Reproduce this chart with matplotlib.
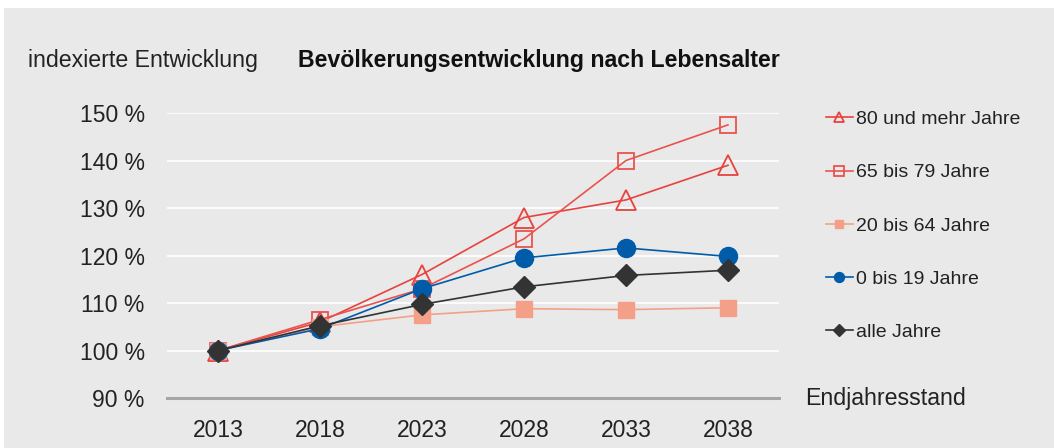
import numpy as np
import matplotlib
matplotlib.use("Agg")
import matplotlib.pyplot as plt
from matplotlib.patches import Rectangle

plt.rcParams['font.family'] = ['Liberation Sans', 'DejaVu Sans']

# data (index, 2013 = 100 %)
years = ["2013", "2018", "2023", "2028", "2033", "2038"]
age_80_plus = [100.0, 106.0, 116.0, 128.0, 131.7, 139.0]
age_65_79 = [100.0, 106.5, 113.0, 123.5, 140.0, 147.5]
age_20_64 = [100.0, 105.0, 107.5, 108.8, 108.6, 109.0]
age_0_19 = [100.0, 104.6, 113.0, 119.5, 121.6, 119.8]
age_all = [100.0, 105.2, 109.7, 113.4, 115.8, 116.9]

y_ticks = [90, 100, 110, 120, 130, 140, 150]
y_tick_labels = [str(t) + " %" for t in y_ticks]

bg = "#e9e9e9"
red = "#e8423d"
red_light = "#e9534e"
salmon = "#f4a088"
blue = "#005ca9"
dark = "#333333"

fig = plt.figure(figsize=(10.54, 4.48), dpi=100, facecolor="white")
fig.patches.append(Rectangle((4 / 1054, 0), 1, 440 / 448, transform=fig.transFigure,
                             facecolor=bg, edgecolor="none", zorder=-10))

ax = fig.add_axes([167 / 1054, 50 / 448, 612 / 1054, 285 / 448])
ax.set_facecolor(bg)

x = np.arange(len(years))

l1, = ax.plot(x, age_80_plus, color=red, lw=1.2, marker="^", ms=14, mfc="none",
              mec=red, mew=1.3, clip_on=False, zorder=3)
l2, = ax.plot(x, age_65_79, color=red_light, lw=1.2, marker="s", ms=12, mfc="none",
              mec=red_light, mew=1.3, clip_on=False, zorder=3)
l3, = ax.plot(x, age_20_64, color=salmon, lw=1.2, marker="s", ms=11, mfc=salmon,
              mec=salmon, clip_on=False, zorder=3)
l4, = ax.plot(x, age_0_19, color=blue, lw=1.2, marker="o", ms=13, mfc=blue,
              mec=blue, clip_on=False, zorder=4)
l5, = ax.plot(x, age_all, color=dark, lw=1.2, marker="D", ms=11, mfc=dark,
              mec=dark, clip_on=False, zorder=5)

ax.set_xlim(-0.5, len(years) - 0.5)
ax.set_ylim(90, 150)
ax.set_yticks(y_ticks)
ax.set_yticklabels(y_tick_labels, fontsize=16.5, color="#222222")
ax.set_xticks(x)
ax.set_xticklabels(years, fontsize=16.5, color="#222222")
ax.tick_params(axis="both", length=0)
ax.tick_params(axis="y", pad=16)
ax.tick_params(axis="x", pad=15)
ax.grid(axis="y", color="white", lw=1.2)
ax.set_axisbelow(True)
for s in ["top", "right", "left"]:
    ax.spines[s].set_visible(False)
ax.spines["bottom"].set_color("#a6a6a6")
ax.spines["bottom"].set_linewidth(2.2)

leg = fig.legend([l1, l2, l3, l4, l5],
                 ["80 und mehr Jahre", "65 bis 79 Jahre", "20 bis 64 Jahre",
                  "0 bis 19 Jahre", "alle Jahre"],
                 loc="upper left", bbox_to_anchor=(808 / 1054, 1 - 93 / 448),
                 frameon=False, fontsize=14, markerscale=0.55,
                 handlelength=1.4, handletextpad=0.15, labelspacing=1.83)
for t in leg.get_texts():
    t.set_color("#222222")

fig.text(805 / 1054, 1 - 398 / 448, "Endjahresstand", fontsize=16.7,
         color="#222222", va="center", ha="left")
fig.text(28 / 1054, 1 - 60 / 448, "indexierte Entwicklung", fontsize=16.7,
         color="#222222", va="center", ha="left")
fig.text(298 / 1054, 1 - 60 / 448, "Bevölkerungsentwicklung nach Lebensalter",
         fontsize=16.7, fontweight="bold", color="#111111", va="center", ha="left")

fig.savefig("out.png", dpi=100, facecolor="white")
